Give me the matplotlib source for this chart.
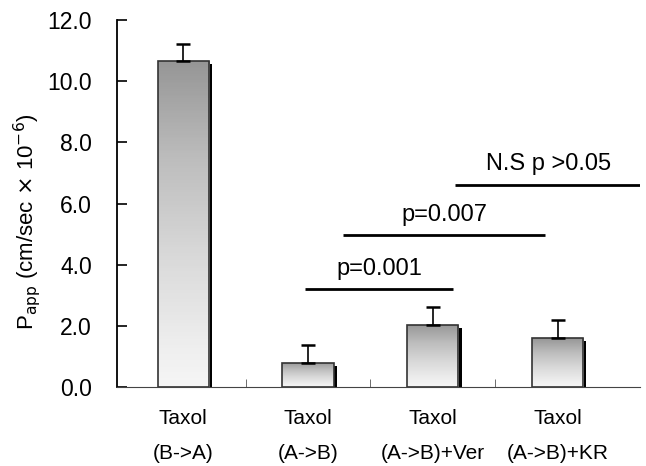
import numpy as np
import matplotlib.pyplot as plt

plt.rcParams['font.family'] = ['Liberation Sans', 'DejaVu Sans']

# data
labels = ['Taxol\n(B->A)', 'Taxol\n(A->B)', 'Taxol\n(A->B)+Ver', 'Taxol\n(A->B)+KR']
papp = [10.65, 0.80, 2.03, 1.60]
sd = [0.57, 0.59, 0.60, 0.60]

# significance brackets: (x start, x end, y level, text)
sig_x0 = [0.98, 1.28, 2.18]
sig_x1 = [2.16, 2.90, 3.67]
sig_y = [3.21, 4.96, 6.62]
sig_txt = ['p=0.001', 'p=0.007', 'N.S p >0.05']

x = np.arange(len(labels))
w = 0.41

fig = plt.figure(figsize=(6.46, 4.66), dpi=100)
ax = fig.add_axes([0.181, 0.1695, 0.81, 0.7875])

# dark shadow on the right side of each bar
ax.bar(x + 0.025, np.array(papp) - 0.1, width=w, color='black', zorder=1)

bars = ax.bar(x, papp, width=w, facecolor='none', edgecolor='#333333', linewidth=1.2, zorder=3)

grad = np.linspace(0, 1, 256).reshape(-1, 1)
for b in bars:
    x0 = b.get_x()
    im = ax.imshow(grad, cmap='Greys_r', vmin=-1.2, vmax=1.2, aspect='auto',
                   extent=[x0, x0 + b.get_width(), 0, b.get_height()],
                   origin='upper', zorder=2)
    im.set_clip_path(b)

ax.errorbar(x, papp, yerr=[np.zeros(len(sd)), sd], fmt='none', ecolor='black',
            elinewidth=1.2, capsize=5, capthick=1.8, zorder=4)

for x0, x1, y, t in zip(sig_x0, sig_x1, sig_y, sig_txt):
    ax.plot([x0, x1], [y, y], color='black', lw=2, solid_capstyle='butt')
    ax.text((x0 + x1) / 2, y + 0.3, t, ha='center', va='bottom', fontsize=17)

ax.set_xlim(-0.53, 3.66)
ax.set_ylim(0, 12.0)
ax.set_yticks(np.arange(0, 12.1, 2.0))
ax.set_yticklabels(['%.1f' % v for v in np.arange(0, 12.1, 2.0)], fontsize=16.5)
ax.set_xticks(x)
ax.set_xticklabels(labels, fontsize=15, linespacing=2.05)
ax.set_xticks([0.5, 1.5, 2.5], minor=True)
ax.tick_params(axis='x', which='major', length=0, pad=16)
ax.tick_params(axis='x', which='minor', direction='in', length=6, color='#555555')
ax.tick_params(axis='y', direction='in', length=7, width=1.2, pad=18)

ax.spines['top'].set_visible(False)
ax.spines['right'].set_visible(False)
ax.spines['left'].set_linewidth(1.3)
ax.spines['bottom'].set_color('#444444')

ax.set_ylabel(r'P$_{\mathrm{app}}$ (cm/sec $\times$ 10$^{\mathrm{-6}}$)', fontsize=16)
ax.yaxis.set_label_coords(-0.142, 0.45)

fig.savefig('out.png', dpi=100)
